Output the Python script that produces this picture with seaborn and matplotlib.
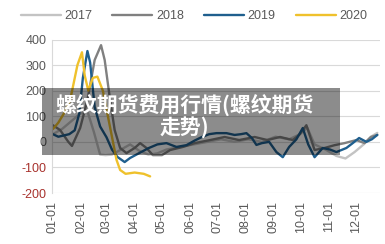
import numpy as np
import pandas as pd
import matplotlib
matplotlib.use('Agg')
import matplotlib.pyplot as plt
from matplotlib.patches import Rectangle
import seaborn as sns

# данные (день года -> значение)
days_2017 = [0, 10, 20, 30, 38, 45, 52, 58, 65, 75, 85, 95, 105, 115, 125, 140, 155, 170, 185, 200, 215, 230, 245, 260, 272, 280, 288, 300, 312, 322, 332, 342, 350, 357]
vals_2017 = [30, 50, 80, 110, 120, 40, -50, -52, -50, -30, -10, -35, -50, -45, -30, -20, -10, 0, 10, 0, 10, 0, 20, 10, 30, 55, -10, -30, -55, -65, -40, -10, 20, 35]

days_2018 = [0, 8, 17, 21, 30, 38, 46, 53, 57, 63, 68, 74, 81, 90, 96, 103, 110, 120, 129, 143, 156, 173, 189, 205, 222, 236, 250, 264, 271, 279, 288, 299, 310, 321, 334, 343, 350, 357]
vals_2018 = [65, 46, 0, -16, 54, 163, 320, 378, 320, 163, 46, -24, -44, -24, -5, -24, -52, -52, -32, -20, -5, 7, 19, 7, 19, 7, 19, 7, 27, 65, -32, -24, -13, -5, 7, -5, 19, 27]

days_2019 = [0, 6, 12, 18, 24, 29, 33, 38, 41, 46, 52, 59, 65, 71, 79, 85, 95, 105, 115, 125, 136, 147, 156, 164, 172, 180, 191, 200, 207, 213, 219, 224, 230, 238, 246, 253, 260, 268, 275, 281, 288, 297, 305, 312, 323, 330, 337, 345, 351, 357]
vals_2019 = [30, 20, 25, 30, 45, 110, 250, 355, 310, 136, 60, 18, -30, -59, -79, -63, -44, -25, -10, -5, -20, -13, 5, 19, 30, 34, 34, 27, 30, 34, 15, -12, -5, 0, -40, -60, -20, 10, 54, -10, -60, -24, -30, -40, -24, -5, 15, 0, 10, 27]

days_2020 = [0, 6, 12, 19, 27, 32, 35, 39, 44, 49, 55, 60, 65, 70, 74, 80, 90, 100, 107]
vals_2020 = [50, 75, 110, 163, 300, 350, 260, 200, 250, 255, 200, 110, 20, -70, -110, -125, -120, -125, -135]

years = ['2017', '2018', '2019', '2020']
colors = {'2017': '#c3c3c3', '2018': '#808080', '2019': '#1f5f8e', '2020': '#efc12c'}
tick_days = [0, 31, 59, 90, 120, 151, 181, 212, 243, 273, 304, 334]
tick_labels = ['01-01', '02-01', '03-01', '04-01', '05-01', '06-01',
               '07-01', '08-01', '09-01', '10-01', '11-01', '12-01']
y_ticks = [-200, -100, 0, 100, 200, 300, 400]

parts = []
for y, d, v in zip(years, [days_2017, days_2018, days_2019, days_2020],
                   [vals_2017, vals_2018, vals_2019, vals_2020]):
    parts.append(pd.DataFrame({'day': d, 'value': v, 'year': y}))
df = pd.concat(parts, ignore_index=True)

sns.set_style('white')
plt.rcParams['font.family'] = ['Liberation Sans', 'DejaVu Sans']

fig = plt.figure(figsize=(3.85, 2.44), dpi=100)
ax = fig.add_axes([0.135, 0.209, 0.852, 0.629])

sns.lineplot(data=df, x='day', y='value', hue='year', palette=colors,
             hue_order=years, linewidth=1.7, ax=ax, sort=True)
for ln in ax.get_lines():
    ln.set_solid_joinstyle('round')

ax.set_xlim(-1, 360)
ax.set_ylim(-200, 400)
ax.set_yticks(y_ticks)
ax.set_yticklabels([str(t) for t in y_ticks])
for lab, t in zip(ax.get_yticklabels(), y_ticks):
    lab.set_color('#a8322d' if t < 0 else '#595959')
ax.set_xticks(tick_days)
ax.set_xticklabels(tick_labels, rotation=90, color='#595959')
ax.tick_params(axis='both', length=0, labelsize=9)
ax.tick_params(axis='x', pad=6)
ax.tick_params(axis='y', pad=4)
ax.grid(axis='y', color='#d9d9d9', linewidth=0.8)
ax.set_axisbelow(True)
for s in ['top', 'right', 'bottom']:
    ax.spines[s].set_visible(False)
ax.spines['left'].set_color('#d9d9d9')
ax.set_xlabel('')
ax.set_ylabel('')

ax.legend(loc='upper center', bbox_to_anchor=(0.433, 1.265), ncol=4, frameon=False,
          fontsize=9, handlelength=3.2, columnspacing=1.6, handletextpad=0.3,
          labelcolor='#595959')

# полупрозрачная плашка с заголовком
fig.patches.append(Rectangle((0.109, 0.365), 0.774, 0.274, transform=fig.transFigure,
                             facecolor='black', alpha=0.45, edgecolor='none', zorder=5))
fig.text(0.48, 0.525, '螺纹期货费用行情(螺纹期货\n走势)', ha='center', va='center',
         fontsize=15, fontweight='bold', color='white', linespacing=1.05,
         family=['Noto Sans CJK SC', 'DejaVu Sans'], zorder=6)

fig.savefig('out.png', dpi=100)
